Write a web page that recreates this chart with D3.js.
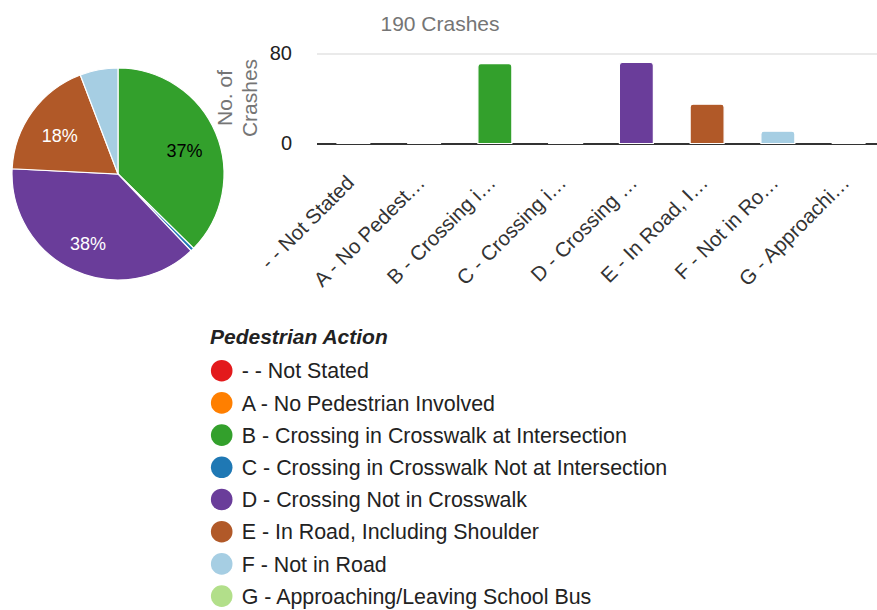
<!DOCTYPE html>
<html>
<head>
<meta charset="utf-8">
<script src="https://cdn.jsdelivr.net/npm/d3@7"></script>
<style>
  body { margin: 0; background: #fff; }
  text { font-family: Arial, "Liberation Sans", sans-serif; }
</style>
</head>
<body>
<script>
var w = 877;
var h = 610;

// data
var categories = ["- - Not Stated", "A - No Pedestrian Involved", "B - Crossing in Crosswalk at Intersection",
    "C - Crossing in Crosswalk Not at Intersection", "D - Crossing Not in Crosswalk",
    "E - In Road, Including Shoulder", "F - Not in Road", "G - Approaching/Leaving School Bus"];
var tickLabels = ["- - Not Stated", "A - No Pedest\u2026", "B - Crossing i\u2026", "C - Crossing i\u2026",
    "D - Crossing \u2026", "E - In Road, I\u2026", "F - Not in Ro\u2026", "G - Approachi\u2026"];
var crashes = [0, 0, 71, 1, 72, 35, 11, 0];
var colors = ["#e31a1c", "#ff7f00", "#33a02c", "#1f78b4", "#6a3d9a", "#b15928", "#a6cee3", "#b2df8a"];
var yTicks = [0, 80];
var legendTitle = "Pedestrian Action";

var total = d3.sum(crashes);
var rows = categories.map(function(c, i){
    return {name: c, tick: tickLabels[i], value: crashes[i], color: colors[i]};
});

var svg = d3.select("body")
    .append("svg")
    .attr("width", w)
    .attr("height", h);

// pick black or white label on a slice
function labelColor(c) {
    var rgb = d3.rgb(c);
    function lin(v) { v = v / 255; return v <= 0.03928 ? v / 12.92 : Math.pow((v + 0.055) / 1.055, 2.4); }
    var L = 0.2126 * lin(rgb.r) + 0.7152 * lin(rgb.g) + 0.0722 * lin(rgb.b);
    return L > 0.2 ? "#000" : "#fff";
}

// ---- pie ----
var cx = 118, cy = 174, r = 106;
var pie = d3.pie().sort(null).value(function(d){ return d.value; });
var arc = d3.arc().innerRadius(0).outerRadius(r);
var labelArc = d3.arc().innerRadius(72).outerRadius(72);
var slices = pie(rows.filter(function(d){ return d.value > 0; }));

var pieG = svg.append("g").attr("transform", "translate(" + cx + "," + cy + ")");
pieG.selectAll("path")
    .data(slices)
    .enter()
    .append("path")
    .attr("d", arc)
    .attr("fill", function(d){ return d.data.color; })
    .attr("stroke", "#fff")
    .attr("stroke-width", 1.2);

pieG.selectAll("text")
    .data(slices.filter(function(d){ return d.data.value / total >= 0.1; }))
    .enter()
    .append("text")
    .attr("transform", function(d){ return "translate(" + labelArc.centroid(d) + ")"; })
    .attr("text-anchor", "middle")
    .attr("dy", "0.58em")
    .attr("font-size", 18)
    .attr("fill", function(d){ return labelColor(d.data.color); })
    .text(function(d){ return Math.round(d.data.value / total * 100) + "%"; });

// ---- bars ----
var x0 = 317, x1 = 877;
var x = d3.scaleBand()
    .domain(categories)
    .range([318, 884])
    .paddingInner(0.52)
    .paddingOuter(0.26);
var y = d3.scaleLinear()
    .domain([0, 80])
    .range([143.5, 53.5]);

svg.append("text")
    .attr("x", 440)
    .attr("y", 30.5)
    .attr("text-anchor", "middle")
    .attr("font-size", 21)
    .attr("fill", "#757575")
    .text(total + " Crashes");

var yAxis = svg.append("g")
    .attr("transform", "translate(" + x0 + ",0)")
    .call(d3.axisLeft(y).tickValues(yTicks).tickSize(-(x1 - x0)).tickPadding(25).tickFormat(d3.format("d")));
yAxis.select(".domain").remove();
yAxis.selectAll(".tick line")
    .attr("stroke", function(d){ return d === 0 ? "#333" : "#e3e3e3"; })
    .attr("stroke-width", function(d){ return d === 0 ? 2 : 1.3; });
yAxis.selectAll(".tick text")
    .attr("font-size", 20)
    .attr("fill", "#222")
    .attr("font-family", "Arial, 'Liberation Sans', sans-serif");

var yTitle = svg.append("text")
    .attr("transform", "translate(237,98) rotate(-90)")
    .attr("text-anchor", "middle")
    .attr("font-size", 21)
    .attr("fill", "#757575");
yTitle.append("tspan").attr("x", 0).attr("y", -5).text("No. of");
yTitle.append("tspan").attr("x", 0).attr("y", 20).text("Crashes");

function barPath(d) {
    var bx = x(d.name), bw = x.bandwidth();
    var top = y(d.value), base = y(0);
    var rr = Math.min(3, (base - top) / 2);
    return "M" + bx + "," + base +
        "V" + (top + rr) +
        "Q" + bx + "," + top + " " + (bx + rr) + "," + top +
        "H" + (bx + bw - rr) +
        "Q" + (bx + bw) + "," + top + " " + (bx + bw) + "," + (top + rr) +
        "V" + base + "Z";
}

svg.selectAll("path.bar")
    .data(rows)
    .enter()
    .append("path")
    .attr("class", "bar")
    .attr("d", barPath)
    .attr("fill", function(d){ return d.color; })
    .attr("stroke", "#fff")
    .attr("stroke-width", 1.2);

svg.selectAll("text.xlab")
    .data(rows)
    .enter()
    .append("text")
    .attr("class", "xlab")
    .attr("transform", function(d){
        return "translate(" + (x(d.name) + x.bandwidth() / 2 + 2) + ",184) rotate(-45)";
    })
    .attr("text-anchor", "end")
    .attr("font-size", 20.5)
    .attr("fill", "#333")
    .text(function(d){ return d.tick; });

// ---- legend ----
svg.append("text")
    .attr("x", 210)
    .attr("y", 344)
    .attr("font-size", 21)
    .attr("font-weight", "bold")
    .attr("font-style", "italic")
    .attr("fill", "#222")
    .text(legendTitle);

var legend = svg.selectAll("g.legend")
    .data(rows)
    .enter()
    .append("g")
    .attr("class", "legend")
    .attr("transform", function(d, i){ return "translate(0," + (370.7 + i * 32.2) + ")"; });
legend.append("circle")
    .attr("cx", 221.7)
    .attr("cy", 0)
    .attr("r", 10.8)
    .attr("fill", function(d){ return d.color; });
legend.append("text")
    .attr("x", 241.7)
    .attr("y", 7.7)
    .attr("font-size", 21.4)
    .attr("fill", "#222")
    .text(function(d){ return d.name; });
</script>
</body>
</html>
